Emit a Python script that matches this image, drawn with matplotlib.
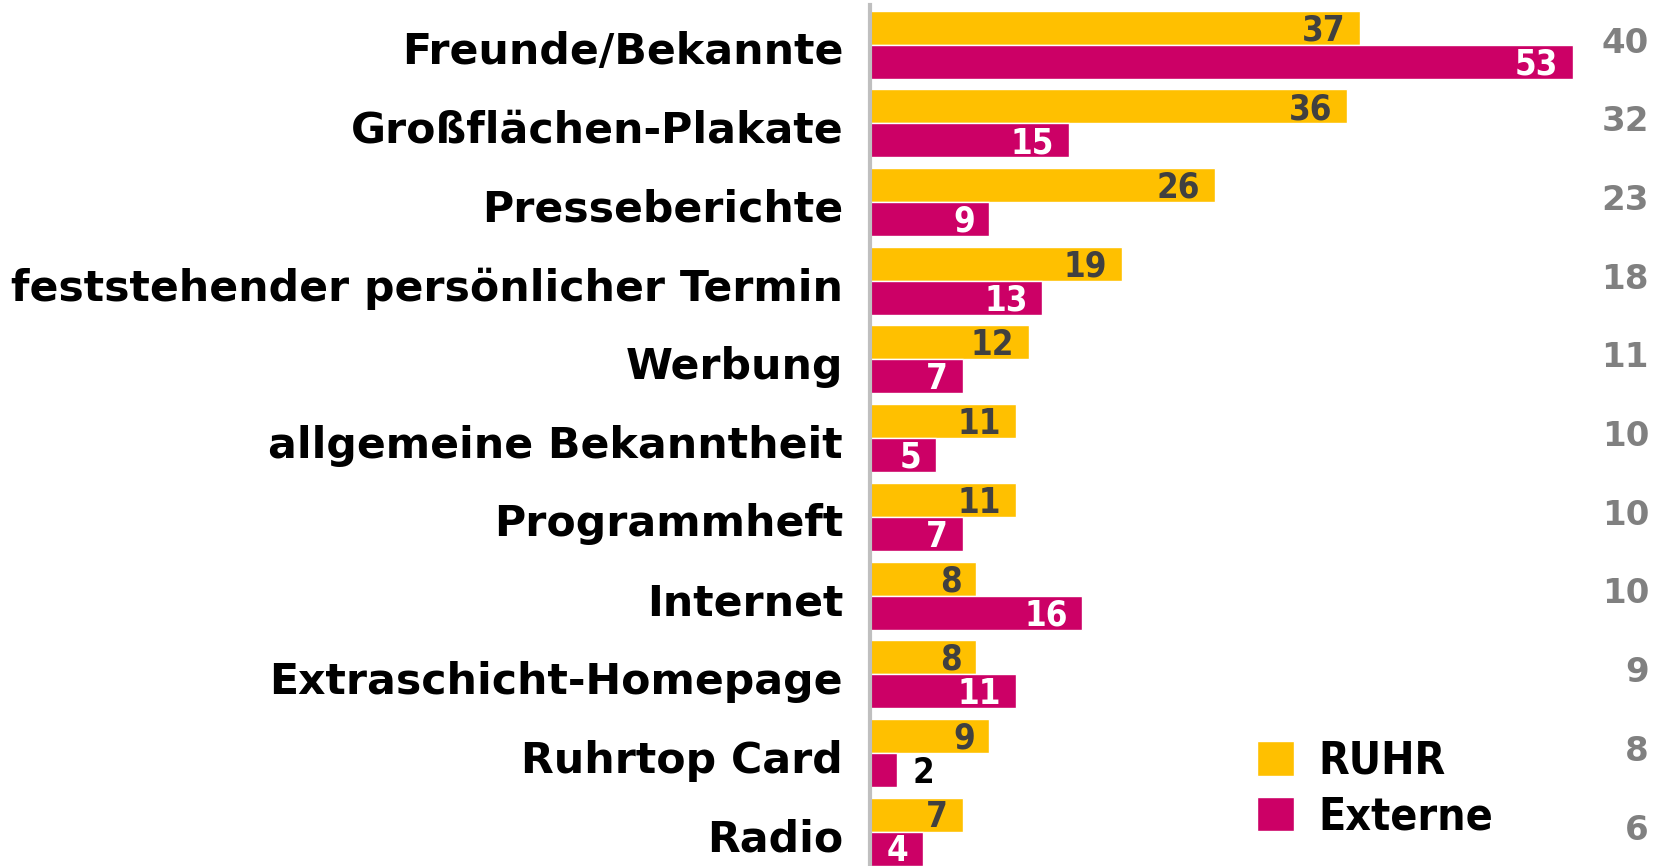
import matplotlib
matplotlib.use('Agg')
import matplotlib.pyplot as plt
import matplotlib.transforms as mtransforms
from matplotlib.font_manager import FontProperties
import numpy as np

# Daten (von oben nach unten)
kategorien = ['Freunde/Bekannte', 'Großflächen-Plakate', 'Presseberichte',
              'feststehender persönlicher Termin', 'Werbung', 'allgemeine Bekanntheit',
              'Programmheft', 'Internet', 'Extraschicht-Homepage', 'Ruhrtop Card', 'Radio']
ruhr = [37, 36, 26, 19, 12, 11, 11, 8, 8, 9, 7]
externe = [53, 15, 9, 13, 7, 5, 7, 16, 11, 2, 4]
gesamt = [40, 32, 23, 18, 11, 10, 10, 10, 9, 8, 6]

GELB = '#FFC000'
MAGENTA = '#CC0066'

fig = plt.figure(figsize=(16.68, 8.66), dpi=100)
ax = fig.add_axes([870 / 1668, 0, 798 / 1668, 1])

y = np.arange(len(kategorien))
h = 0.432
b1 = ax.barh(y - h / 2, ruhr, height=h, color=GELB, edgecolor='white', linewidth=1, label='RUHR')
b2 = ax.barh(y + h / 2, externe, height=h, color=MAGENTA, edgecolor='white', linewidth=1, label='Externe')

ax.set_xlim(0, 60.2)
ax.set_ylim(10.437, -0.567)

for s in ['top', 'right', 'bottom']:
    ax.spines[s].set_visible(False)
ax.spines['left'].set_color('#BFBFBF')
ax.spines['left'].set_linewidth(3)
ax.spines['left'].set_bounds(10.437, -0.5)

ax.set_xticks([])
ax.set_yticks([])

# Kategorien links
for yi, k in zip(y, kategorien):
    ax.annotate(k, (0, yi), xytext=(-19.4, -5.5), textcoords='offset points',
                ha='right', va='center', fontsize=30.7, fontweight='bold',
                family='DejaVu Sans', annotation_clip=False)

# Werte in den Balken
wert_font = FontProperties(family='DejaVu Sans', weight='bold', stretch='condensed', size=25)
for bars, werte, farbe in [(b1, ruhr, '#404040'), (b2, externe, 'white')]:
    for bar, w in zip(bars, werte):
        yc = bar.get_y() + bar.get_height() / 2
        if w < 3:
            ax.annotate(str(w), (w, yc), xytext=(11.5, -2), textcoords='offset points',
                        ha='left', va='center', color='black', fontproperties=wert_font)
        else:
            ax.annotate(str(w), (w, yc), xytext=(-10.5, -2), textcoords='offset points',
                        ha='right', va='center', color=farbe, fontproperties=wert_font)

# Gesamtwerte rechts
trans = mtransforms.blended_transform_factory(fig.transFigure, ax.transData)
for yi, g in zip(y, gesamt):
    ax.text(1649 / 1668, yi - 0.02, str(g), transform=trans, ha='right', va='center',
            color='#808080', fontsize=24.5, fontweight='bold', family='DejaVu Sans')

leg_font = FontProperties(family='DejaVu Sans', weight='bold', stretch='condensed', size=32)
leg = fig.legend(handles=[b1, b2], loc='upper left', bbox_to_anchor=(1257 / 1668, 1 - 740 / 866),
                 bbox_transform=fig.transFigure, frameon=False, borderpad=0, borderaxespad=0,
                 handlelength=0.83, handleheight=0.81, handletextpad=0.56, labelspacing=0.28,
                 prop=leg_font)

fig.savefig('out.png', dpi=100)
